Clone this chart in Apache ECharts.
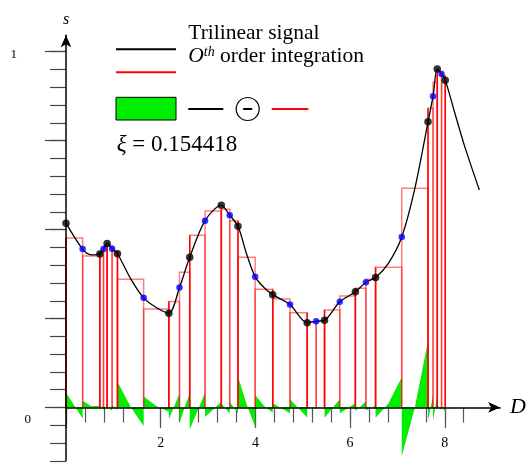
<!DOCTYPE html>
<html>
<head>
<meta charset="utf-8">
<script src="https://cdn.jsdelivr.net/npm/echarts@6/dist/echarts.min.js"></script>
<style>
  html, body { margin: 0; padding: 0; background: #fff; }
  #chart { width: 529px; height: 464px; }
</style>
</head>
<body>
<div id="chart"></div>
<script>
// samples of the trilinear signal: knots (black) and midpoints (blue)
const sampleX = [0, 0.353, 0.718, 0.796, 0.872, 0.978, 1.092, 1.647, 2.182, 2.408, 2.625, 2.950, 3.295, 3.474, 3.649, 4.013,
  4.386, 4.752, 5.117, 5.307, 5.485, 5.808, 6.139, 6.363, 6.568, 7.123, 7.681, 7.787, 7.877, 7.968, 8.046]
const sampleY = [0.518, 0.445, 0.431, 0.445, 0.461, 0.446, 0.432, 0.308, 0.265, 0.337, 0.422, 0.525, 0.568, 0.540, 0.509, 0.367,
  0.317, 0.289, 0.238, 0.242, 0.245, 0.297, 0.325, 0.352, 0.365, 0.479, 0.803, 0.875, 0.951, 0.937, 0.920]
const sampleKnot = [1, 0, 1, 0, 1, 0, 1, 0, 1, 0, 1, 0, 1, 0, 1, 0, 1, 0, 1, 0, 1, 0, 1, 0, 1, 0, 1, 0, 1, 0, 1]

// 0th order integration: one step value between each pair of samples
const stepY = [0.476, 0.426, 0.438, 0.453, 0.455, 0.439, 0.360, 0.277, 0.298, 0.380, 0.484, 0.552, 0.557, 0.525, 0.422,
  0.332, 0.305, 0.266, 0.240, 0.244, 0.274, 0.313, 0.335, 0.360, 0.394, 0.616, 0.841, 0.914, 0.944, 0.932]

// the black curve
const curveX = [0, 0.353, 0.54, 0.718, 0.796, 0.872, 0.978, 1.092, 1.37, 1.647, 1.915, 2.182, 2.408, 2.625, 2.950, 3.295,
  3.474, 3.649, 3.83, 4.013, 4.20, 4.386, 4.752, 5.117, 5.307, 5.485, 5.808, 6.139, 6.363, 6.568, 6.84, 7.123, 7.40, 7.681,
  7.787, 7.877, 7.968, 8.046, 8.25, 8.46, 8.77]
const curveY = [0.518, 0.445, 0.429, 0.431, 0.445, 0.461, 0.446, 0.432, 0.362, 0.308, 0.281, 0.265, 0.337, 0.422, 0.525, 0.568,
  0.540, 0.509, 0.432, 0.367, 0.337, 0.317, 0.289, 0.238, 0.242, 0.245, 0.297, 0.325, 0.352, 0.365, 0.405, 0.479, 0.615, 0.803,
  0.875, 0.951, 0.937, 0.920, 0.827, 0.733, 0.611]

const xTickLabels = [2, 4, 6, 8]
const yTickLabels = [0, 1]

const FONT = 'Liberation Serif'
const GREEN = '#00ee00'
const RED = '#ff0000'
const PINK = 'rgba(255,0,0,0.5)'

const chart = echarts.init(document.getElementById('chart'), null, { renderer: 'canvas' })

function renderDiff(params, api) {
  const i = api.value(0)
  const x0 = sampleX[i]
  const x1 = sampleX[i + 1]
  const pts = [api.coord([x0, 0])]
  curveX.forEach((x, k) => {
    if (x >= x0 - 1e-9 && x <= x1 + 1e-9) pts.push(api.coord([x, curveY[k] - stepY[i]]))
  })
  pts.push(api.coord([x1, 0]))
  return { type: 'polygon', shape: { points: pts }, style: { fill: GREEN } }
}

function renderStep(params, api) {
  const i = api.value(0)
  const pts = [
    api.coord([sampleX[i], 0]),
    api.coord([sampleX[i], stepY[i]]),
    api.coord([sampleX[i + 1], stepY[i]]),
    api.coord([sampleX[i + 1], 0])
  ]
  return { type: 'polyline', shape: { points: pts }, style: { stroke: PINK, lineWidth: 1.5, fill: 'none' } }
}

function renderKnotLine(params, api) {
  const a = api.coord([api.value(0), 0])
  const b = api.coord([api.value(0), api.value(1)])
  return { type: 'line', shape: { x1: a[0], y1: a[1], x2: b[0], y2: b[1] }, style: { stroke: RED, lineWidth: 1.5 } }
}

const knotLines = []
sampleX.forEach((x, i) => {
  if (sampleKnot[i]) knotLines.push([x, Math.max(stepY[i - 1] || 0, stepY[i] || 0)])
})

const hidden = { show: false }
const tickStyleX = { color: '#555', width: 1.2 }
const tickStyleY = { color: '#444', width: 1.2 }

chart.setOption({
  animation: false,
  grid: [
    { left: 66, top: 35.3, width: 436.1, height: 425.5 },
    { left: 66, top: 300, width: 397.7, height: 107.5 },
    { left: 66, top: 300, width: 378.8, height: 107.5 },
    { left: 66, top: 51.7, width: 100, height: 409.2 },
    { left: 66, top: 51.7, width: 100, height: 355.8 }
  ],
  xAxis: [
    {
      gridIndex: 0, type: 'value', min: 0, max: 9.21, z: 10,
      name: 'D', nameLocation: 'end', nameGap: 10,
      nameTextStyle: { fontFamily: FONT, fontStyle: 'italic', fontSize: 22, color: '#000' },
      axisLine: { show: true, onZero: true, symbol: ['none', 'arrow'], symbolSize: [8, 12], lineStyle: { color: '#000', width: 1.5 } },
      axisTick: hidden, axisLabel: hidden, splitLine: hidden
    },
    {
      gridIndex: 1, type: 'value', min: 0, max: 8.4, interval: 0.4,
      axisLine: { show: false, onZero: false },
      axisTick: { show: true, length: 15, lineStyle: tickStyleX },
      axisLabel: hidden, splitLine: hidden
    },
    {
      gridIndex: 2, type: 'value', min: 0, max: 8, interval: 2,
      axisLine: { show: false, onZero: false },
      axisTick: { show: true, length: 20.7, lineStyle: tickStyleX },
      axisLabel: {
        show: true, margin: 29, fontFamily: FONT, fontSize: 14, color: '#000',
        formatter: v => (xTickLabels.includes(v) ? String(v) : '')
      },
      splitLine: hidden
    },
    { gridIndex: 3, type: 'value', show: false },
    { gridIndex: 4, type: 'value', show: false }
  ],
  yAxis: [
    {
      gridIndex: 0, type: 'value', min: -0.15, max: 1.046, z: 10,
      name: 's', nameLocation: 'end', nameGap: 8,
      nameTextStyle: { fontFamily: FONT, fontStyle: 'italic', fontSize: 16, color: '#000' },
      axisLine: { show: true, onZero: true, symbol: ['none', 'arrow'], symbolSize: [8, 12], lineStyle: { color: '#000', width: 1.5 } },
      axisTick: hidden, axisLabel: hidden, splitLine: hidden
    },
    { gridIndex: 1, type: 'value', min: 0, max: 1, show: false },
    { gridIndex: 2, type: 'value', min: 0, max: 1, show: false },
    {
      gridIndex: 3, type: 'value', min: -0.15, max: 1, interval: 0.05,
      axisLine: { show: false, onZero: false },
      axisTick: { show: true, length: 16, lineStyle: tickStyleY },
      axisLabel: hidden, splitLine: hidden
    },
    {
      gridIndex: 4, type: 'value', min: 0, max: 1, interval: 0.25,
      axisLine: { show: false, onZero: false },
      axisTick: { show: true, length: 21, lineStyle: tickStyleY },
      axisLabel: {
        show: true, margin: 35, fontFamily: FONT, fontSize: 13, color: '#000',
        formatter: v => (v === yTickLabels[1] ? '{one|1}' : v === yTickLabels[0] ? '{zero|0}' : ''),
        rich: {
          one: { fontFamily: FONT, fontSize: 13, padding: [6, 14, 0, 0] },
          zero: { fontFamily: FONT, fontSize: 13, padding: [25, 0, 0, 0] }
        }
      },
      splitLine: hidden
    }
  ],
  graphic: [
    { type: 'line', shape: { x1: 116, y1: 49.3, x2: 176, y2: 49.3 }, style: { stroke: '#000', lineWidth: 2 } },
    { type: 'text', x: 188.3, y: 33.4, style: { text: 'Trilinear signal', font: '21.5px "Liberation Serif"', fill: '#000', verticalAlign: 'middle' } },
    { type: 'line', shape: { x1: 116, y1: 72.3, x2: 176, y2: 72.3 }, style: { stroke: RED, lineWidth: 2 } },
    {
      type: 'text', x: 188.3, y: 56,
      style: {
        text: '{o|O}{sup|th}{t| order integration}', verticalAlign: 'middle', fill: '#000',
        rich: {
          o: { fontFamily: FONT, fontStyle: 'italic', fontSize: 21.5 },
          sup: { fontFamily: FONT, fontStyle: 'italic', fontSize: 14, verticalAlign: 'top' },
          t: { fontFamily: FONT, fontSize: 21.5 }
        }
      }
    },
    { type: 'rect', shape: { x: 116, y: 97.3, width: 60, height: 22.7 }, style: { fill: GREEN, stroke: '#000', lineWidth: 1 } },
    { type: 'line', shape: { x1: 188.3, y1: 109, x2: 223.3, y2: 109 }, style: { stroke: '#000', lineWidth: 2 } },
    { type: 'circle', shape: { cx: 247.7, cy: 109, r: 11.5 }, style: { fill: 'none', stroke: '#000', lineWidth: 1.2 } },
    { type: 'line', shape: { x1: 243.2, y1: 109, x2: 252.2, y2: 109 }, style: { stroke: '#000', lineWidth: 2 } },
    { type: 'line', shape: { x1: 271.7, y1: 109, x2: 308.3, y2: 109 }, style: { stroke: RED, lineWidth: 2 } },
    {
      type: 'text', x: 116.7, y: 144.9,
      style: {
        text: '{g|ξ}{t| = 0.154418}', verticalAlign: 'middle', fill: '#000',
        rich: {
          g: { fontFamily: FONT, fontStyle: 'italic', fontSize: 23 },
          t: { fontFamily: FONT, fontSize: 23 }
        }
      }
    }
  ],
  series: [
    {
      name: 'difference', type: 'custom', xAxisIndex: 0, yAxisIndex: 0, z: 1,
      renderItem: renderDiff,
      data: stepY.map((s, i) => [i, sampleX[i], s])
    },
    {
      name: '0th order integration', type: 'custom', xAxisIndex: 0, yAxisIndex: 0, z: 2,
      renderItem: renderStep,
      data: stepY.map((s, i) => [i, sampleX[i], s])
    },
    {
      name: 'knot lines', type: 'custom', xAxisIndex: 0, yAxisIndex: 0, z: 3,
      renderItem: renderKnotLine,
      data: knotLines
    },
    {
      name: 'Trilinear signal', type: 'line', xAxisIndex: 0, yAxisIndex: 0, z: 4,
      smooth: 0.3, showSymbol: false,
      lineStyle: { color: '#000', width: 1.3 },
      data: curveX.map((x, i) => [x, curveY[i]])
    },
    {
      name: 'midpoints', type: 'scatter', xAxisIndex: 0, yAxisIndex: 0, z: 5,
      symbolSize: 6.5, itemStyle: { color: '#0000ff' },
      data: sampleX.map((x, i) => [x, sampleY[i]]).filter((p, i) => !sampleKnot[i])
    },
    {
      name: 'knots', type: 'scatter', xAxisIndex: 0, yAxisIndex: 0, z: 5,
      symbolSize: 7.5, itemStyle: { color: '#000' },
      data: sampleX.map((x, i) => [x, sampleY[i]]).filter((p, i) => sampleKnot[i])
    }
  ]
})
</script>
</body>
</html>
